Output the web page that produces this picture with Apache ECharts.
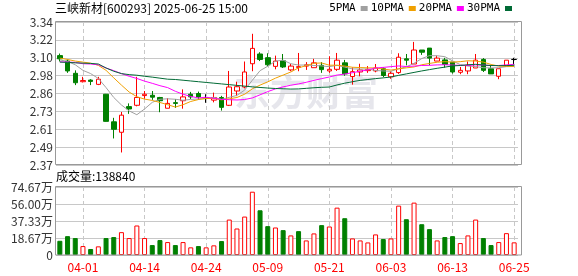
<!DOCTYPE html>
<html>
<head>
<meta charset="utf-8">
<script src="https://cdn.jsdelivr.net/npm/echarts@6/dist/echarts.min.js"></script>
<style>
  html, body { margin: 0; padding: 0; background: #fff; }
  #chart { width: 578px; height: 276px; }
</style>
</head>
<body>
<div id="chart"></div>
<script>
// region 数据

const dates = [
  '03-27', '03-28', '03-31', '04-01', '04-02', '04-03', '04-07', '04-08', '04-09', '04-10',
  '04-11', '04-14', '04-15', '04-16', '04-17', '04-18', '04-21', '04-22', '04-23', '04-24',
  '04-25', '04-28', '04-29', '04-30', '05-06', '05-07', '05-08', '05-09', '05-12', '05-13',
  '05-14', '05-15', '05-16', '05-19', '05-20', '05-21', '05-22', '05-23', '05-26', '05-27',
  '05-28', '05-29', '05-30', '06-03', '06-04', '06-05', '06-06', '06-09', '06-10', '06-11',
  '06-12', '06-13', '06-16', '06-17', '06-18', '06-19', '06-20', '06-23', '06-24', '06-25'
]

const opens = [
  3.112, 3.075, 2.992, 2.935, 2.946, 2.917, 2.850, 2.663, 2.592, 2.766,
  2.775, 2.841, 2.843, 2.828, 2.755, 2.793, 2.806, 2.850, 2.855, 2.823,
  2.810, 2.828, 2.775, 2.872, 2.899, 3.057, 3.123, 3.098, 3.039, 3.077,
  3.015, 3.032, 3.041, 3.030, 3.046, 3.008, 3.019, 3.063, 2.970, 3.001,
  3.010, 3.008, 3.023, 2.968, 2.997, 3.090, 3.055, 3.150, 3.163, 3.075,
  3.083, 3.068, 2.999, 3.008, 3.028, 3.086, 3.023, 2.972, 3.046, 3.086
]

const closes = [
  3.090, 3.008, 2.928, 2.943, 2.937, 2.952, 2.666, 2.612, 2.708, 2.750,
  2.828, 2.850, 2.830, 2.806, 2.788, 2.788, 2.832, 2.832, 2.832, 2.823,
  2.828, 2.761, 2.899, 2.901, 3.001, 3.161, 3.086, 3.050, 3.075, 3.035,
  3.041, 3.037, 3.050, 3.063, 3.017, 3.019, 3.081, 2.988, 3.003, 3.015,
  3.019, 3.028, 2.977, 2.992, 3.101, 3.081, 3.150, 3.135, 3.095, 3.095,
  3.052, 3.001, 3.012, 3.046, 3.081, 3.012, 2.988, 3.023, 3.081, 3.086
]

const highs = [
  3.126, 3.086, 3.012, 2.968, 2.952, 2.968, 2.852, 2.690, 2.730, 2.788,
  2.968, 2.872, 2.872, 2.832, 2.823, 2.817, 2.883, 2.866, 2.868, 2.850,
  2.861, 2.839, 3.008, 2.935, 3.072, 3.260, 3.135, 3.128, 3.112, 3.123,
  3.055, 3.130, 3.068, 3.090, 3.068, 3.108, 3.130, 3.083, 3.032, 3.057,
  3.041, 3.055, 3.032, 3.006, 3.128, 3.123, 3.205, 3.150, 3.163, 3.112,
  3.097, 3.068, 3.035, 3.072, 3.123, 3.095, 3.046, 3.023, 3.081, 3.097
]

const lows = [
  3.072, 2.995, 2.912, 2.930, 2.912, 2.912, 2.664, 2.550, 2.455, 2.717,
  2.768, 2.819, 2.812, 2.728, 2.755, 2.757, 2.752, 2.817, 2.812, 2.792,
  2.795, 2.739, 2.770, 2.837, 2.890, 3.006, 3.075, 3.039, 3.019, 3.028,
  3.006, 3.006, 3.015, 3.030, 2.995, 2.995, 3.008, 2.975, 2.915, 2.972,
  2.995, 2.999, 2.966, 2.955, 2.988, 3.046, 3.055, 3.117, 3.046, 3.075,
  3.030, 2.990, 2.986, 2.986, 3.028, 3.001, 2.988, 2.952, 3.041, 3.050
]

const ma5 = [
  3.083, 3.072, 3.050, 3.012, 2.990, 2.957, 2.895, 2.828, 2.777, 2.737,
  2.711, 2.750, 2.795, 2.816, 2.819, 2.816, 2.809, 2.815, 2.818, 2.821,
  2.829, 2.815, 2.829, 2.842, 2.878, 2.945, 3.010, 3.040, 3.075, 3.081,
  3.057, 3.048, 3.048, 3.045, 3.042, 3.037, 3.046, 3.034, 3.022, 3.021,
  3.021, 3.011, 3.008, 3.006, 3.023, 3.036, 3.060, 3.092, 3.112, 3.111,
  3.105, 3.076, 3.051, 3.041, 3.038, 3.030, 3.028, 3.030, 3.037, 3.038
]

const ma10 = [
  3.095, 3.086, 3.075, 3.068, 3.061, 3.046, 3.012, 2.961, 2.912, 2.865,
  2.833, 2.817, 2.808, 2.794, 2.779, 2.763, 2.779, 2.801, 2.814, 2.821,
  2.821, 2.812, 2.819, 2.828, 2.850, 2.887, 2.912, 2.934, 2.959, 2.980,
  3.001, 3.029, 3.044, 3.060, 3.062, 3.047, 3.047, 3.041, 3.033, 3.031,
  3.029, 3.028, 3.021, 3.014, 3.022, 3.029, 3.035, 3.050, 3.059, 3.067,
  3.071, 3.068, 3.071, 3.077, 3.075, 3.068, 3.052, 3.041, 3.039, 3.038
]

const ma20 = [
  3.070, 3.068, 3.066, 3.057, 3.055, 3.050, 3.028, 3.010, 2.990, 2.972,
  2.957, 2.939, 2.924, 2.908, 2.895, 2.870, 2.850, 2.835, 2.825, 2.830,
  2.822, 2.815, 2.813, 2.811, 2.814, 2.825, 2.846, 2.868, 2.886, 2.900,
  2.911, 2.920, 2.931, 2.944, 2.956, 2.967, 2.980, 2.987, 2.996, 3.006,
  3.015, 3.028, 3.032, 3.037, 3.042, 3.038, 3.041, 3.045, 3.046, 3.049,
  3.050, 3.048, 3.046, 3.045, 3.049, 3.048, 3.044, 3.045, 3.049, 3.053
]

const ma30 = [
  3.068, 3.066, 3.063, 3.061, 3.059, 3.055, 3.028, 3.006, 2.990, 2.983,
  2.979, 2.972, 2.966, 2.959, 2.952, 2.950, 2.945, 2.940, 2.935, 2.930,
  2.925, 2.920, 2.915, 2.910, 2.905, 2.900, 2.896, 2.892, 2.889, 2.887,
  2.885, 2.886, 2.890, 2.894, 2.897, 2.899, 2.913, 2.925, 2.935, 2.944,
  2.950, 2.956, 2.961, 2.967, 2.978, 2.988, 2.998, 3.008, 3.017, 3.026,
  3.034, 3.042, 3.045, 3.050, 3.053, 3.048, 3.045, 3.044, 3.044, 3.046
]

const volumes = [
  156000, 207000, 186000, 98000, 66000, 95000, 186000, 197000, 251000, 186000,
  324000, 186000, 109000, 164000, 142000, 109000, 142000, 84000, 98000, 84000,
  106000, 153000, 389000, 291000, 422000, 695000, 491000, 317000, 302000, 273000,
  215000, 262000, 160000, 237000, 328000, 313000, 520000, 404000, 182000, 160000,
  138000, 226000, 175000, 182000, 542000, 393000, 575000, 338000, 284000, 160000,
  197000, 207000, 131000, 215000, 389000, 186000, 109000, 142000, 240000, 138840
]

// 1 红色空心, 0 绿色实心
const volumeUp = [
  0, 0, 0, 1, 0, 1, 0, 0, 1, 1,
  1, 1, 0, 0, 1, 0, 1, 1, 0, 1,
  1, 0, 1, 1, 1, 1, 0, 0, 1, 0,
  1, 0, 1, 1, 0, 1, 1, 0, 1, 1,
  1, 1, 0, 1, 1, 0, 1, 0, 0, 1,
  0, 0, 1, 1, 1, 0, 0, 1, 1, 1
]

const maNames = ['5PMA', '10PMA', '20PMA', '30PMA']
const maColors = ['#a0a0a0', '#f0a000', '#ff00ff', '#006a35']

const priceMin = 2.37
const priceMax = 3.34
const volumeMax = 746680

// endregion

const UP = '#ff0000'
const DOWN = '#008000'
const FONT = 'Noto Sans CJK SC'
const MONO = '"DejaVu Sans Mono", monospace'

// 日期标签每 8 个交易日一个, 从 04-01 开始
const labelEvery = (index) => (index - 3) % 8 === 0

const candleData = dates.map((d, i) => [opens[i], closes[i], lows[i], highs[i]])

const volumeData = volumes.map((v, i) => ({
  value: v,
  itemStyle: volumeUp[i]
    ? {color: '#fff', borderColor: UP, borderWidth: 1}
    : {color: DOWN, borderColor: DOWN, borderWidth: 1}
}))

const chart = echarts.init(document.getElementById('chart'), null, {renderer: 'canvas'})

const xAxisBase = {
  type: 'category',
  data: dates,
  boundaryGap: true,
  axisLine: {show: false},
  axisTick: {show: false},
  splitLine: {
    show: true,
    interval: labelEvery,
    alignWithLabel: true,
    lineStyle: {color: '#c8c8c8', type: [4, 3], width: 1}
  }
}

const option = {
  animation: false,
  textStyle: {fontFamily: FONT},
  title: [
    {
      text: '三峡新材[600293] 2025-06-25 15:00',
      left: 55,
      top: 2,
      padding: 0,
      textStyle: {fontSize: 12, fontWeight: 'normal', color: '#000', fontFamily: FONT}
    },
    {
      text: '成交量:138840',
      left: 56,
      top: 170,
      padding: 0,
      textStyle: {fontSize: 12, fontWeight: 'normal', color: '#000', fontFamily: FONT}
    }
  ],
  legend: {
    data: maNames,
    right: 66,
    top: 3,
    padding: 0,
    align: 'right',
    icon: 'rect',
    itemWidth: 7,
    itemHeight: 5,
    itemGap: 3,
    textStyle: {fontSize: 11, color: '#000', fontFamily: MONO}
  },
  graphic: [
    {
      type: 'text',
      left: 234,
      top: 74,
      z: 0,
      silent: true,
      style: {text: '东方财富', fontSize: 36, fontWeight: 'bold', fill: '#e6e6ec', fontFamily: FONT}
    },
    {
      type: 'rect',
      z: 10,
      silent: true,
      shape: {x: 55.5, y: 21.5, width: 466, height: 143},
      style: {fill: 'none', stroke: '#999', lineWidth: 1}
    },
    {
      type: 'rect',
      z: 10,
      silent: true,
      shape: {x: 55.5, y: 186.5, width: 466, height: 68.5},
      style: {fill: 'none', stroke: '#999', lineWidth: 1}
    }
  ],
  grid: [
    {left: 56, top: 22, width: 462, height: 143},
    {left: 56, top: 187, width: 462, height: 68}
  ],
  xAxis: [
    Object.assign({}, xAxisBase, {gridIndex: 0, axisLabel: {show: false}}),
    Object.assign({}, xAxisBase, {
      gridIndex: 1,
      axisLabel: {
        show: true,
        interval: labelEvery,
        color: UP,
        fontSize: 12,
        margin: 6,
        fontFamily: FONT
      }
    })
  ],
  yAxis: [
    {
      type: 'value',
      gridIndex: 0,
      min: priceMin,
      max: priceMax,
      interval: (priceMax - priceMin) / 8,
      axisLine: {show: false},
      axisTick: {show: false},
      axisLabel: {
        color: '#333',
        fontSize: 12,
        margin: 3,
        fontFamily: FONT,
        formatter: (v) => (v + 1e-9).toFixed(2)
      },
      splitLine: {lineStyle: {color: '#c8c8c8', width: 1}}
    },
    {
      type: 'value',
      gridIndex: 1,
      min: 0,
      max: volumeMax,
      interval: volumeMax / 4,
      axisLine: {show: false},
      axisTick: {show: false},
      axisLabel: {
        color: '#333',
        fontSize: 12,
        margin: 3,
        fontFamily: FONT,
        formatter: (v) => v === 0 ? '0' : (v / 10000).toFixed(2) + '万'
      },
      splitLine: {lineStyle: {color: '#c8c8c8', width: 1}}
    }
  ],
  series: [
    {
      name: 'K',
      type: 'candlestick',
      xAxisIndex: 0,
      yAxisIndex: 0,
      barWidth: 5,
      data: candleData,
      itemStyle: {
        color: '#fff',
        color0: DOWN,
        borderColor: UP,
        borderColor0: DOWN,
        borderColorDoji: '#000',
        borderWidth: 1
      }
    },
    ...[ma5, ma10, ma20, ma30].map((arr, k) => ({
      name: maNames[k],
      type: 'line',
      xAxisIndex: 0,
      yAxisIndex: 0,
      data: arr,
      symbol: 'none',
      silent: true,
      color: maColors[k],
      lineStyle: {width: 1, color: maColors[k]}
    })),
    {
      name: '成交量',
      type: 'bar',
      xAxisIndex: 1,
      yAxisIndex: 1,
      barWidth: 5,
      data: volumeData
    }
  ]
}

chart.setOption(option)
</script>
</body>
</html>
